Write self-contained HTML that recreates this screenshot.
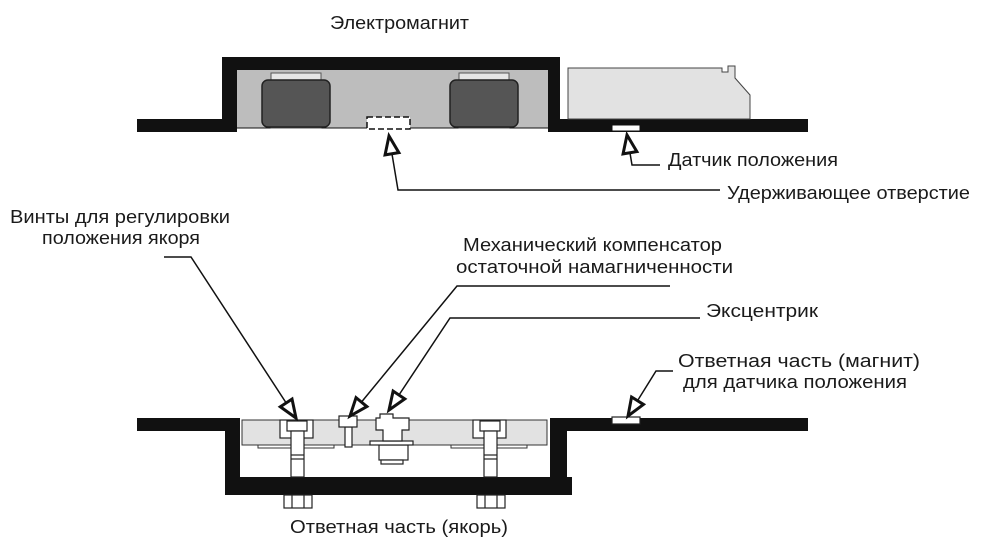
<!DOCTYPE html>
<html><head><meta charset="utf-8"><style>
body{margin:0;background:#fff}
svg{display:block}
text{font-family:"Liberation Sans",sans-serif;font-size:18px;fill:#1a1a1a}
</style></head><body>
<svg width="981" height="543" viewBox="0 0 981 543" xmlns="http://www.w3.org/2000/svg">
<defs>
<marker id="a" markerUnits="userSpaceOnUse" markerWidth="26" markerHeight="22" refX="21" refY="10" orient="auto">
<path d="M3,3 L21,10 L3,17 Z" fill="#fff" stroke="#111" stroke-width="3" stroke-linejoin="miter"/>
</marker>
</defs>
<text x="330" y="29" textLength="139" lengthAdjust="spacingAndGlyphs">Электромагнит</text>
<path d="M137,119 H222 V57 H560 V119 H808 V132 H548 V128 H237 V132 H137 Z" fill="#111"/>
<rect x="237" y="70" width="311" height="58" fill="#bdbdbd"/>
<line x1="237" y1="128" x2="548" y2="128" stroke="#111" stroke-width="1"/>
<rect x="271" y="73" width="50" height="8" fill="#e6e6e6" stroke="#555" stroke-width="1"/>
<rect x="271" y="120" width="50" height="8" fill="#e6e6e6" stroke="#555" stroke-width="1"/>
<rect x="262" y="80" width="68" height="47" rx="6" fill="#555" stroke="#222" stroke-width="1.5"/>
<rect x="459" y="73" width="50" height="8" fill="#e6e6e6" stroke="#555" stroke-width="1"/>
<rect x="459" y="120" width="50" height="8" fill="#e6e6e6" stroke="#555" stroke-width="1"/>
<rect x="450" y="80" width="68" height="47" rx="6" fill="#555" stroke="#222" stroke-width="1.5"/>
<rect x="367" y="117" width="43" height="12" fill="#fff" stroke="#111" stroke-width="1.5" stroke-dasharray="6,3"/>
<path d="M568,68 H722 V72 L728,72 V66 H735 V78 L750,95 V119 H568 Z" fill="#e2e2e2" stroke="#444" stroke-width="1"/>
<rect x="612" y="125" width="28" height="6" fill="#fff" stroke="#111" stroke-width="1"/>
<polyline points="720,190 398,190 389,136" fill="none" stroke="#111" stroke-width="1.5" marker-end="url(#a)"/>
<polyline points="660,165 632,165 627,135" fill="none" stroke="#111" stroke-width="1.5" marker-end="url(#a)"/>
<text x="668" y="166" textLength="170" lengthAdjust="spacingAndGlyphs">Датчик положения</text>
<text x="727" y="199" textLength="243" lengthAdjust="spacingAndGlyphs">Удерживающее отверстие</text>
<text x="10" y="223" textLength="220" lengthAdjust="spacingAndGlyphs">Винты для регулировки</text>
<text x="42" y="244" textLength="158" lengthAdjust="spacingAndGlyphs">положения якоря</text>
<text x="463" y="251" textLength="259" lengthAdjust="spacingAndGlyphs">Механический компенсатор</text>
<text x="456" y="273" textLength="277" lengthAdjust="spacingAndGlyphs">остаточной намагниченности</text>
<text x="706" y="317" textLength="112" lengthAdjust="spacingAndGlyphs">Эксцентрик</text>
<text x="678" y="367" textLength="242" lengthAdjust="spacingAndGlyphs">Ответная часть (магнит)</text>
<text x="683" y="388" textLength="224" lengthAdjust="spacingAndGlyphs">для датчика положения</text>
<text x="290" y="533" textLength="218" lengthAdjust="spacingAndGlyphs">Ответная часть (якорь)</text>
<path d="M137,418 H240 V477 H550 V418 H808 V431 H567 V477 H572 V495 H225 V431 H137 Z" fill="#111"/>
<rect x="242" y="420" width="305" height="25" fill="#e2e2e2" stroke="#333" stroke-width="1"/>
<rect x="258" y="445" width="76" height="3" fill="#fff" stroke="#333" stroke-width="1"/>
<rect x="451" y="445" width="76" height="3" fill="#fff" stroke="#333" stroke-width="1"/>
<g fill="#fff" stroke="#222" stroke-width="1.2">
<rect x="280" y="420" width="33" height="18"/><rect x="287" y="421" width="20" height="10"/>
<rect x="291" y="431" width="13" height="46"/>
<line x1="291" y1="455" x2="304" y2="455"/><line x1="291" y1="459" x2="304" y2="459"/>
<rect x="284" y="495" width="28" height="13"/><line x1="292" y1="495" x2="292" y2="508"/><line x1="304" y1="495" x2="304" y2="508"/>
<rect x="473" y="420" width="33" height="18"/><rect x="480" y="421" width="20" height="10"/>
<rect x="484" y="431" width="13" height="46"/>
<line x1="484" y1="455" x2="497" y2="455"/><line x1="484" y1="459" x2="497" y2="459"/>
<rect x="477" y="495" width="28" height="13"/><line x1="485" y1="495" x2="485" y2="508"/><line x1="497" y1="495" x2="497" y2="508"/>
<rect x="345" y="427" width="7" height="20"/>
<rect x="339" y="416" width="18" height="11"/>
<rect x="379" y="445" width="29" height="15"/><rect x="381" y="460" width="22" height="4"/>
<rect x="370" y="441" width="43" height="4"/>
<path d="M380,414 H393 V418 H409 V430 H402 V441 H383 V430 H376 V418 H380 Z"/>
<rect x="612" y="417" width="28" height="7"/>
</g>
<polyline points="164,257 191,257 296,418" fill="none" stroke="#111" stroke-width="1.5" marker-end="url(#a)"/>
<polyline points="670,286 457,286 350,416" fill="none" stroke="#111" stroke-width="1.5" marker-end="url(#a)"/>
<polyline points="700,318 450,318 389,410" fill="none" stroke="#111" stroke-width="1.5" marker-end="url(#a)"/>
<polyline points="673,371 656,371 628,416" fill="none" stroke="#111" stroke-width="1.5" marker-end="url(#a)"/>
</svg>
</body></html>
